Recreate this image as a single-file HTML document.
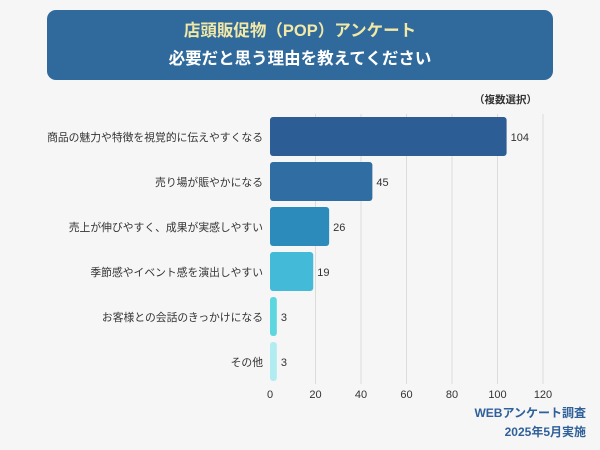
<!DOCTYPE html>
<html><head><meta charset="utf-8"><style>
body{margin:0;width:600px;height:450px;background:#f6f6f7;font-family:"Liberation Sans","Noto Sans CJK JP",sans-serif;overflow:hidden;position:relative}
#title{position:absolute;left:47px;top:10px;width:506px;height:70px;background:#306a9c;border-radius:9px;text-align:center;font-weight:bold;font-size:16.5px;line-height:28px;padding-top:7px;box-sizing:border-box}
</style></head><body>
<div id="title"><div style="color:#f3e9a6">店頭販促物（POP）アンケート</div><div style="color:#fff">必要だと思う理由を教えてください</div></div>
<svg id="chart" width="600" height="450" style="position:absolute;left:0;top:0"></svg>
<script>
const categories=["商品の魅力や特徴を視覚的に伝えやすくなる","売り場が賑やかになる","売上が伸びやすく、成果が実感しやすい","季節感やイベント感を演出しやすい","お客様との会話のきっかけになる","その他"];
const values=[104,45,26,19,3,3];
const ticks=[0,20,40,60,80,100,120];
const colors=["#2d5d95","#2f6da2","#2d8bbb","#43bad8","#5dd6e0","#b2ecf3"];
const ns="http://www.w3.org/2000/svg",svg=document.getElementById('chart');
const x=v=>270+v*(543-270)/120, y=i=>117+i*45;
function mk(t,a,txt){const e=document.createElementNS(ns,t);for(const k in a)e.setAttribute(k,a[k]);if(txt!=null)e.textContent=txt;svg.appendChild(e);return e;}
ticks.forEach(t=>{
 if(t>0){const g=mk('line',{x1:x(t),x2:x(t),y1:114,y2:384,stroke:'#dcdcdc','stroke-width':1});
 
 }
 const l=mk('text',{x:x(t),y:398,'text-anchor':'middle','font-size':11,fill:'#333'},t);
 
 
});
categories.forEach((c,i)=>{
 const b=mk('rect',{x:270,y:y(i),width:Math.max(x(values[i])-270,1),height:39,rx:3,fill:colors[i]});
 
 
 const v=mk('text',{x:x(values[i])+4,y:y(i)+24,'font-size':11,fill:'#333'},values[i]);
 
 
 const cl=mk('text',{x:263,y:y(i)+24,'text-anchor':'end','font-size':10.8,fill:'#333'},c);
 
 
});
const n=mk('text',{x:537,y:103,'text-anchor':'end','font-size':10.5,'font-weight':'bold',fill:'#333'},'（複数選択）');


const s1=mk('text',{x:586,y:417,'text-anchor':'end','font-size':12,'font-weight':'bold',fill:'#2f6099'},'WEBアンケート調査');


const s2=mk('text',{x:586,y:436,'text-anchor':'end','font-size':12,'font-weight':'bold',fill:'#2f6099'},'2025年5月実施');


</script>
</body></html>
